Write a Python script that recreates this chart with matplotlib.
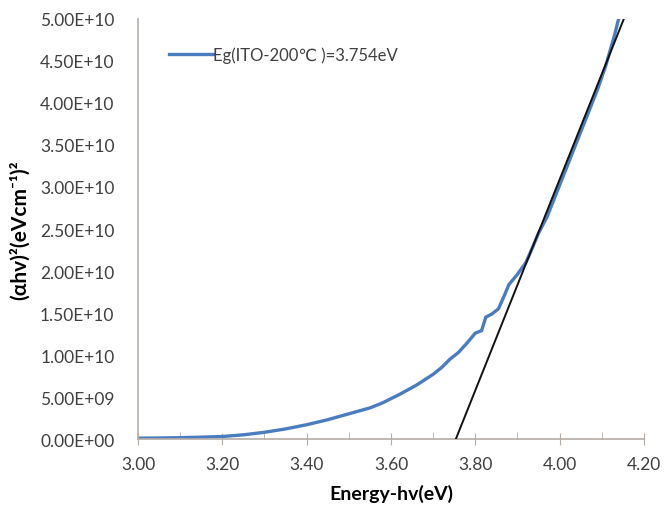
import numpy as np
import matplotlib.pyplot as plt
from matplotlib.ticker import FuncFormatter, MultipleLocator

# Tauc plot of the ITO film annealed at 200 C
energy = [3.00, 3.05, 3.10, 3.15, 3.20, 3.25, 3.30, 3.35, 3.40, 3.45,
          3.50, 3.55, 3.58, 3.62, 3.66, 3.70, 3.72, 3.74, 3.76, 3.78,
          3.80, 3.81, 3.815, 3.825, 3.84, 3.855, 3.87, 3.88, 3.90, 3.92,
          3.935, 3.95, 3.97, 4.00, 4.03, 4.06, 4.09, 4.11, 4.13, 4.145]
ahv2 = [0.010, 0.012, 0.016, 0.022, 0.030, 0.05, 0.08, 0.12, 0.17, 0.23,
        0.30, 0.37, 0.43, 0.53, 0.64, 0.77, 0.85, 0.95, 1.03, 1.14,
        1.26, 1.28, 1.29, 1.45, 1.49, 1.55, 1.72, 1.84, 1.96, 2.10,
        2.27, 2.45, 2.64, 3.02, 3.40, 3.78, 4.16, 4.45, 4.80, 5.10]
ahv2 = np.array(ahv2) * 1e10

# linear extrapolation of the absorption edge
eg = 3.754
edge_slope = 1.255e11
fit_x = np.array([eg, 4.20])
fit_y = edge_slope * (fit_x - eg)

plt.rcParams['font.family'] = ['Lato', 'DejaVu Sans']

fig = plt.figure(figsize=(6.7, 5.06), dpi=100)
ax = fig.add_axes([0.206, 0.1304, 0.755, 0.8301])

ax.plot(energy, ahv2, color='#4a7cc0', lw=2.4, label='Eg(ITO-200℃ )=3.754eV', zorder=2)
ax.plot(fit_x, fit_y, color='#111111', lw=1.4, zorder=3)

ax.set_xlim(3.0, 4.2)
ax.set_ylim(0, 5e10)
ax.xaxis.set_major_locator(MultipleLocator(0.2))
ax.xaxis.set_minor_locator(MultipleLocator(0.1))
ax.yaxis.set_major_locator(MultipleLocator(5e9))
ax.yaxis.set_major_formatter(FuncFormatter(lambda v, p: f'{v:.2E}'))
ax.xaxis.set_major_formatter(FuncFormatter(lambda v, p: f'{v:.2f}'))

for s in ['top', 'right']:
    ax.spines[s].set_visible(False)
for s in ['left', 'bottom']:
    ax.spines[s].set_color('#b5aca5')
    ax.spines[s].set_linewidth(1.2)

ax.tick_params(axis='x', which='major', direction='inout', length=9, color='#b5aca5',
               labelsize=12.5, labelcolor='#404040', pad=8)
ax.tick_params(axis='x', which='minor', direction='in', length=5, color='#b5aca5')
ax.tick_params(axis='y', length=0, labelsize=12.5, labelcolor='#404040', pad=17)

ax.set_xlabel('Energy-hv(eV)', fontsize=14, fontweight='bold', labelpad=8)
ax.set_ylabel('(αhv)²(eVcm⁻¹)²', fontsize=15, fontweight='bold', labelpad=7)

leg = ax.legend(loc='upper left', bbox_to_anchor=(0.032, 0.97), frameon=False,
                fontsize=12, handlelength=2.6, handletextpad=0.05)
for t in leg.get_texts():
    t.set_color('#404040')

fig.savefig('out.png', dpi=100)
